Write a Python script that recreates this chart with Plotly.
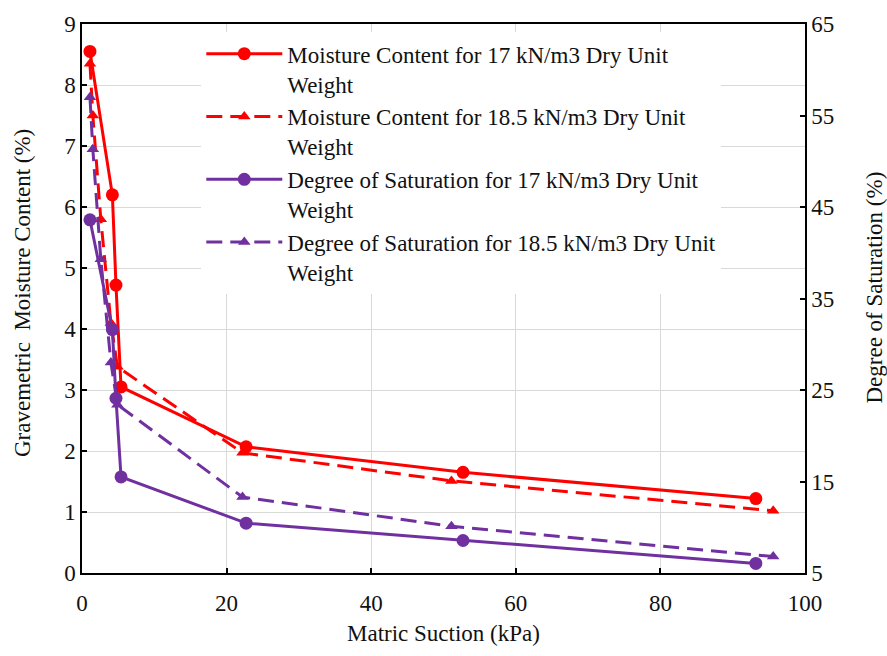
import plotly.graph_objects as go

# Matric suction (kPa) and measured values
suction_17 = [1.1, 4.2, 4.7, 5.4, 22.7, 52.7, 93.2]
moisture_17 = [8.55, 6.2, 4.72, 3.05, 2.07, 1.65, 1.22]
saturation_17 = [43.6, 31.6, 24.1, 15.5, 10.45, 8.55, 6.05]

suction_185 = [1.1, 1.5, 2.6, 4.0, 4.9, 22.2, 51.1, 95.6]
moisture_185 = [8.35, 7.5, 5.8, 4.1, 3.38, 1.97, 1.51, 1.02]
saturation_185 = [57.0, 51.3, 39.3, 28.0, 23.4, 13.3, 10.1, 6.8]

names = [
    "Moisture Content for 17 kN/m3 Dry Unit<br>Weight",
    "Moisture Content for 18.5 kN/m3 Dry Unit<br>Weight",
    "Degree of Saturation for 17 kN/m3 Dry Unit<br>Weight",
    "Degree of Saturation for 18.5 kN/m3 Dry Unit<br>Weight",
]

RED = "#FF0000"
PURPLE = "#7030A0"
FONT = "Liberation Serif"
TEXT = "#111111"
DASH = "16px,8px"

fig = go.Figure()
fig.add_trace(go.Scatter(
    x=suction_17, y=moisture_17, name=names[0], mode="lines+markers",
    line=dict(color=RED, width=3), marker=dict(symbol="circle", size=13, color=RED)))
fig.add_trace(go.Scatter(
    x=suction_185, y=moisture_185, name=names[1], mode="lines+markers",
    line=dict(color=RED, width=3, dash=DASH),
    marker=dict(symbol="triangle-up", size=11, color=RED)))
fig.add_trace(go.Scatter(
    x=suction_17, y=saturation_17, name=names[2], mode="lines+markers", yaxis="y2",
    line=dict(color=PURPLE, width=3), marker=dict(symbol="circle", size=13, color=PURPLE)))
fig.add_trace(go.Scatter(
    x=suction_185, y=saturation_185, name=names[3], mode="lines+markers", yaxis="y2",
    line=dict(color=PURPLE, width=3, dash=DASH),
    marker=dict(symbol="triangle-up", size=11, color=PURPLE)))

tickfont = dict(family=FONT, size=23, color=TEXT)
axis_common = dict(
    showline=True, linecolor="black", linewidth=1.5,
    ticks="inside", ticklen=5, tickcolor="black", tickwidth=1.5,
    tickfont=tickfont, zeroline=False,
)

fig.update_layout(
    width=887, height=656,
    margin=dict(l=82, r=82, t=18, b=83),
    paper_bgcolor="white", plot_bgcolor="white",
    font=dict(family=FONT, size=23, color=TEXT),
    showlegend=True,
    legend=dict(
        x=0.165, y=0.985, xanchor="left", yanchor="top",
        bgcolor="white", borderwidth=0, valign="top",
        itemwidth=76, tracegroupgap=0,
        font=dict(family=FONT, size=23, color=TEXT),
    ),
    xaxis=dict(
        range=[0, 100], dtick=20, mirror=True,
        showgrid=True, gridcolor="#d9d9d9", gridwidth=1,
        ticklabelstandoff=9,
        **axis_common,
    ),
    yaxis=dict(
        range=[0, 9], dtick=1,
        showgrid=True, gridcolor="#d9d9d9", gridwidth=1,
        **axis_common,
    ),
    yaxis2=dict(
        range=[5, 65], tick0=5, dtick=10, overlaying="y", side="right",
        showgrid=False,
        **axis_common,
    ),
)

title_font = dict(family=FONT, size=23, color=TEXT)
fig.add_annotation(
    text="Matric Suction (kPa)", xref="paper", yref="paper",
    x=0.5, y=0, yshift=-60, showarrow=False, font=title_font,
    xanchor="center", yanchor="middle")
fig.add_annotation(
    text="Gravemetric\u00a0\u00a0Moisture Content (%)", xref="paper", yref="paper",
    x=0, y=0.51, xshift=-60, showarrow=False, font=title_font, textangle=-90,
    xanchor="center", yanchor="middle")
fig.add_annotation(
    text="Degree of Saturation (%)", xref="paper", yref="paper",
    x=1, y=0.52, xshift=70, showarrow=False, font=title_font, textangle=-90,
    xanchor="center", yanchor="middle")

fig.write_html("out.html")
